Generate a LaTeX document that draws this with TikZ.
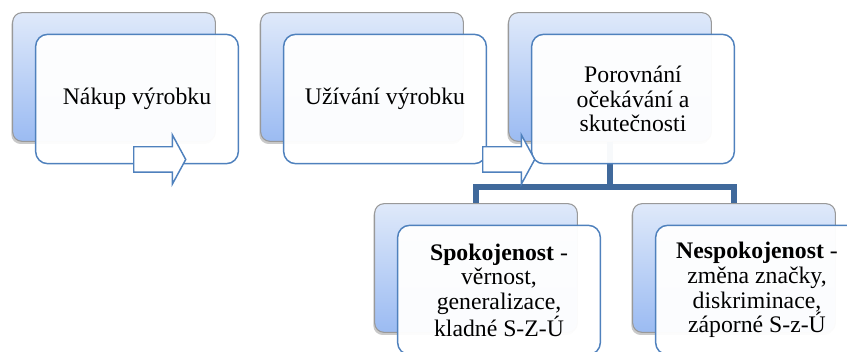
\documentclass[tikz,border=0pt]{standalone}
\usepackage{fontspec}
\setmainfont{Liberation Serif}
\usetikzlibrary{shapes.arrows, shadows, positioning}
\definecolor{backtop}{RGB}{223,233,250}
\definecolor{backbottom}{RGB}{155,187,242}
\definecolor{framecolor}{RGB}{79,129,189}
\definecolor{linkcolor}{RGB}{64,105,155}

\begin{document}
\begin{tikzpicture}[x=0.75pt,y=-0.75pt]
  \tikzset{
    backbox/.style={
      draw=gray!80,
      line width=0.8pt,
      rounded corners=7pt,
      minimum width=152pt,
      minimum height=96.5pt,
      top color=backtop,
      bottom color=backbottom,
      drop shadow={shadow xshift=-1pt, shadow yshift=-2pt, opacity=0.3, fill=black!70}
    },
    frontbox/.style={
      draw=framecolor,
      line width=1.1pt,
      rounded corners=9pt,
      minimum width=152pt,
      minimum height=97pt,
      fill=white,
      fill opacity=0.96,
      text opacity=1,
      align=center,
      font=\rmfamily\fontsize{17.8}{18.5}\selectfont
    },
    steparrow/.style={
      single arrow,
      draw=framecolor,
      line width=1.1pt,
      fill=white,
      inner xsep=0pt,
      inner ysep=9pt,
      minimum height=39pt,
      single arrow head extend=9pt,
      single arrow tip angle=123,
      anchor=tail
    },
    link/.style={
      draw=linkcolor,
      line width=4.2pt
    }
  }

  \path[use as bounding box, clip] (0,0) rectangle (847,352);

  % Back boxes
  \node[backbox] at (114,77) (back1) {};
  \node[backbox] at (362,77) (back2) {};
  \node[backbox] at (610,77) (back3) {};
  \node[backbox] at (476,268) (back4) {};
  \node[backbox] at (734,268) (back5) {};

  % Branching connector
  \draw[link] (back3.south) -- ++(0,45) coordinate (split);
  \draw[link] (back4.north) |- (split) -| (back5.north);

  % Front boxes of the upper row
  \node[frontbox] at ([shift={(23,22)}]back1.center) (front1) {Nákup výrobku};
  \node[frontbox] at ([shift={(23,22)}]back2.center) (front2) {Užívání výrobku};
  \node[frontbox] at ([shift={(23,22)}]back3.center) (front3) {
    Porovnání\\očekávání a\\skutečnosti
  };

  % Arrows between the steps
  \node[steparrow] at (133,159.5) (arrow1) {};
  \node[steparrow] at (482,159.5) (arrow2) {};

  % Front boxes of the lower row
  \node[frontbox] at ([shift={(23,22)}]back4.center) (front4) {
    \textbf{Spokojenost} -\\věrnost,\\generalizace,\\kladné S-Z-Ú
  };
  \node[frontbox] at ([shift={(23,22)}]back5.center) (front5) {
    \textbf{Nespokojenost} -\\změna značky,\\diskriminace,\\záporné S-z-Ú
  };

\end{tikzpicture}
\end{document}
